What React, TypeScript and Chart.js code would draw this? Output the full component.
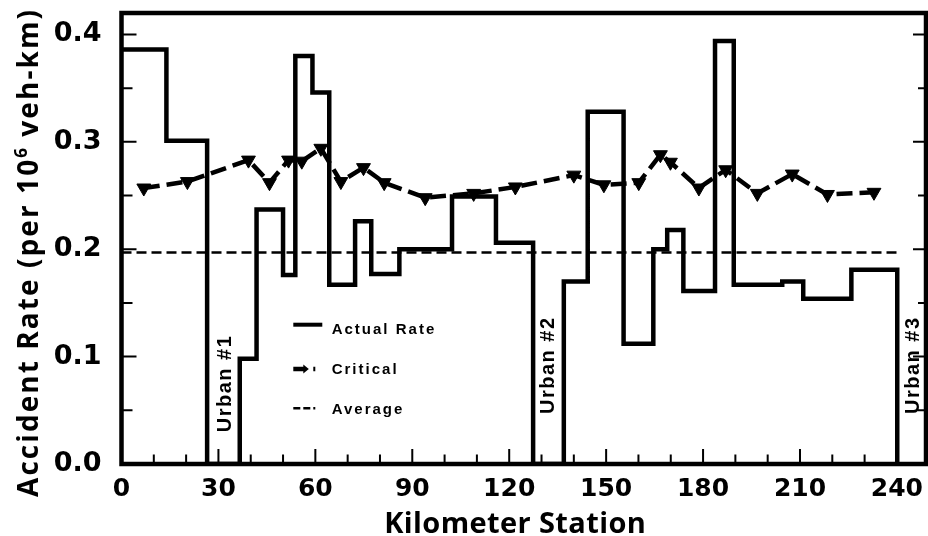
import React, { useEffect, useRef } from "react";
import { Chart, registerables } from "chart.js";

Chart.register(...registerables);

// ---- data ----
// Actual accident rate: piecewise-constant segments, value holds from each station to the next
const actualStation = [0, 13.9, 26.5, 36.6, 41.8, 50.0, 53.8, 59.1, 64.3, 72.3, 77.3, 86.0, 102.3, 115.9, 127.4, 136.9, 144.3, 155.4, 164.6, 168.9, 173.9, 183.7, 189.5, 204.5, 211.0, 225.9, 240.1];
const actualRate = [0.386, 0.301, 0, 0.098, 0.237, 0.176, 0.38, 0.346, 0.167, 0.226, 0.177, 0.2, 0.249, 0.206, 0, 0.17, 0.328, 0.112, 0.2, 0.218, 0.161, 0.394, 0.167, 0.17, 0.154, 0.181, 0];

// Critical rate
const criticalStation = [6.9, 20.4, 39.3, 45.8, 51.7, 55.8, 61.7, 67.9, 74.9, 81.3, 94.0, 109.0, 121.9, 140.0, 149.3, 160.1, 166.8, 169.9, 178.7, 187.0, 196.8, 207.6, 218.5, 232.9];
const criticalRate = [0.257, 0.263, 0.283, 0.262, 0.283, 0.282, 0.294, 0.263, 0.276, 0.262, 0.248, 0.252, 0.258, 0.269, 0.26, 0.262, 0.288, 0.281, 0.257, 0.274, 0.252, 0.27, 0.251, 0.253];

// Average rate
const averageStation = [0, 240];
const averageRate = [0.197, 0.197];

// Axis ticks
const xTickLabels = [0, 30, 60, 90, 120, 150, 180, 210, 240];
const xTickMarks = [10, 20, 30, 40, 50, 60, 70, 80, 90, 100, 110, 120, 130, 140, 150, 160, 170, 180, 190, 200, 210, 220, 230, 240];
const yTickLabels = [0, 0.1, 0.2, 0.3, 0.4];
const yTickMarks = [0.05, 0.1, 0.15, 0.2, 0.25, 0.3, 0.35, 0.4];

// Urban section annotations
const urbanLabels = ["Urban #1", "Urban #2", "Urban #3"];
const urbanStation = [33.9, 133.8, 246.7];
const urbanRate = [0.075, 0.092, 0.092];

const legendLabels = ["Actual Rate", "Critical", "Average"];

const X_MIN = 0;
const X_MAX = 249;
const Y_MIN = 0;
const Y_MAX = 0.42;

function fitSpacing(ctx: CanvasRenderingContext2D, text: string, target: number) {
  (ctx as any).letterSpacing = "0px";
  const w = ctx.measureText(text).width;
  return (target - w) / Math.max(1, text.length);
}

const overlay = {
  id: "overlay",
  afterDraw(chart: any) {
    const { ctx, chartArea: a } = chart;
    const xs = chart.scales.x;
    const ys = chart.scales.y;
    ctx.save();
    ctx.strokeStyle = "#000";
    ctx.fillStyle = "#000";
    ctx.setLineDash([]);

    // inward tick marks
    ctx.lineWidth = 2;
    ctx.beginPath();
    for (const v of xTickMarks) {
      const px = xs.getPixelForValue(v);
      const len = v % 30 === 0 ? 15 : 9.5;
      ctx.moveTo(px, a.bottom);
      ctx.lineTo(px, a.bottom - len);
    }
    for (const v of yTickMarks) {
      const py = ys.getPixelForValue(v);
      const major = Math.abs(v * 10 - Math.round(v * 10)) < 1e-6;
      ctx.moveTo(a.left, py);
      ctx.lineTo(a.left + (major ? 15 : 11), py);
      ctx.moveTo(a.right, py);
      ctx.lineTo(a.right - (major ? 13 : 8), py);
    }
    ctx.stroke();

    // frame
    ctx.lineWidth = 4.5;
    ctx.strokeRect(a.left, a.top, a.right - a.left, a.bottom - a.top);

    // urban labels
    ctx.font = 'bold 20px "Liberation Sans", Arial, sans-serif';
    (ctx as any).letterSpacing = "1.5px";
    ctx.textAlign = "center";
    ctx.textBaseline = "alphabetic";
    urbanLabels.forEach((t, i) => {
      const px = xs.getPixelForValue(urbanStation[i]);
      const py = ys.getPixelForValue(urbanRate[i]);
      ctx.save();
      ctx.translate(px, py);
      ctx.rotate(-Math.PI / 2);
      ctx.fillText(t, 0, 0);
      ctx.restore();
    });

    // legend
    const lx0 = a.left + 171.8;
    const lx1 = lx0 + 29;
    const tx = a.left + 210.2;
    const rowBase = [a.top + 320.5, a.top + 361, a.top + 400.5];
    const rowLine = [a.top + 311.7, a.top + 356, a.top + 395.3];
    ctx.lineWidth = 4;
    ctx.beginPath();
    ctx.moveTo(lx0, rowLine[0]);
    ctx.lineTo(lx1, rowLine[0]);
    ctx.stroke();
    ctx.lineWidth = 4.5;
    ctx.setLineDash([11, 9]);
    ctx.beginPath();
    ctx.moveTo(lx0, rowLine[1]);
    ctx.lineTo(lx0 + 22, rowLine[1]);
    ctx.stroke();
    ctx.setLineDash([]);
    ctx.beginPath();
    ctx.moveTo(lx0 + 10, rowLine[1] - 4.5);
    ctx.lineTo(lx0 + 15.5, rowLine[1]);
    ctx.lineTo(lx0 + 10, rowLine[1] + 4.5);
    ctx.closePath();
    ctx.fill();
    ctx.lineWidth = 2.5;
    ctx.setLineDash([7, 3]);
    ctx.beginPath();
    ctx.moveTo(lx0, rowLine[2]);
    ctx.lineTo(lx0 + 22, rowLine[2]);
    ctx.stroke();
    ctx.setLineDash([]);

    ctx.font = 'bold 15px "Liberation Sans", Arial, sans-serif';
    (ctx as any).letterSpacing = "2px";
    ctx.textAlign = "left";
    ctx.textBaseline = "alphabetic";
    legendLabels.forEach((t, i) => ctx.fillText(t, tx, rowBase[i]));

    // x axis title
    ctx.font = '700 29px "Open Sans", "Noto Sans", sans-serif';
    const xt = "Kilometer Station";
    const sx = fitSpacing(ctx, xt, 262);
    (ctx as any).letterSpacing = sx + "px";
    ctx.textAlign = "center";
    ctx.fillText(xt, 515 + sx / 2, 533);

    // y axis title with superscript
    const p1 = "Accident Rate (per 10";
    const p2 = "6";
    const p3 = " veh-km)";
    const mainFont = '700 28px "Open Sans", "Noto Sans", sans-serif';
    const supFont = '700 17px "Open Sans", "Noto Sans", sans-serif';
    ctx.font = mainFont;
    (ctx as any).letterSpacing = "0px";
    const w1 = ctx.measureText(p1).width;
    const w3 = ctx.measureText(p3).width;
    ctx.font = supFont;
    const w2 = ctx.measureText(p2).width;
    const total = w1 + w2 + w3;
    const n = p1.length + p2.length + p3.length;
    const sp = (489 - total) / n;
    ctx.save();
    ctx.translate(37.5, 497);
    ctx.rotate(-Math.PI / 2);
    ctx.textAlign = "left";
    ctx.font = mainFont;
    (ctx as any).letterSpacing = sp + "px";
    ctx.fillText(p1, 0, 0);
    let cx = w1 + sp * p1.length;
    ctx.font = supFont;
    ctx.fillText(p2, cx, -11);
    cx += w2 + sp * p2.length;
    ctx.font = mainFont;
    ctx.fillText(p3, cx, 0);
    ctx.restore();

    ctx.restore();
  },
};

export default function App() {
  const ref = useRef<HTMLCanvasElement>(null);

  useEffect(() => {
    const canvas = ref.current;
    if (!canvas) return;
    const chart = new Chart(canvas, {
      type: "line",
      data: {
        datasets: [
          {
            label: "Actual Rate",
            data: actualStation.map((x, i) => ({ x, y: actualRate[i] })),
            stepped: true,
            borderColor: "#000",
            borderWidth: 4.5,
            pointRadius: 0,
            fill: false,
          },
          {
            label: "Critical",
            data: criticalStation.map((x, i) => ({ x, y: criticalRate[i] })),
            borderColor: "#000",
            borderWidth: 4.5,
            borderDash: [16, 7],
            pointStyle: "triangle",
            pointRotation: 180,
            pointRadius: 8,
            pointBackgroundColor: "#000",
            pointBorderColor: "#000",
            pointBorderWidth: 1,
            fill: false,
          },
          {
            label: "Average",
            data: averageStation.map((x, i) => ({ x, y: averageRate[i] })),
            borderColor: "#000",
            borderWidth: 2.5,
            borderDash: [10, 5],
            pointRadius: 0,
            fill: false,
          },
        ],
      },
      options: {
        animation: false,
        responsive: true,
        maintainAspectRatio: false,
        events: [],
        layout: { autoPadding: false, padding: { top: 13, right: 2, left: 0, bottom: 0 } },
        plugins: { legend: { display: false }, tooltip: { enabled: false } },
        scales: {
          x: {
            type: "linear",
            min: X_MIN,
            max: X_MAX,
            grid: { display: false, drawTicks: true, tickLength: 10 },
            border: { display: false },
            afterBuildTicks: (s: any) => {
              s.ticks = xTickLabels.map((v) => ({ value: v }));
            },
            afterFit: (s: any) => {
              s.height = 72;
              s.paddingLeft = 0;
              s.paddingRight = 0;
            },
            ticks: {
              color: "#000",
              padding: 0,
              autoSkip: false,
              maxRotation: 0,
              font: { family: '"DejaVu Sans"', size: 25, weight: "bold" },
              callback: (v: any) => String(v),
            },
          },
          y: {
            type: "linear",
            min: Y_MIN,
            max: Y_MAX,
            grid: { display: false, drawTicks: false },
            border: { display: false },
            afterBuildTicks: (s: any) => {
              s.ticks = yTickLabels.map((v) => ({ value: v }));
            },
            afterFit: (s: any) => {
              s.width = 121.5;
              s.paddingTop = 0;
              s.paddingBottom = 0;
            },
            ticks: {
              color: "#000",
              padding: 20,
              autoSkip: false,
              font: { family: '"DejaVu Sans"', size: 27, weight: "bold" },
              callback: (v: any) => Number(v).toFixed(1),
            },
          },
        },
      },
      plugins: [overlay],
    } as any);
    return () => chart.destroy();
  }, []);

  return (
    <div style={{ position: "absolute", left: 0, top: 0, width: 928, height: 536, background: "#fff" }}>
      <canvas ref={ref} />
    </div>
  );
}
